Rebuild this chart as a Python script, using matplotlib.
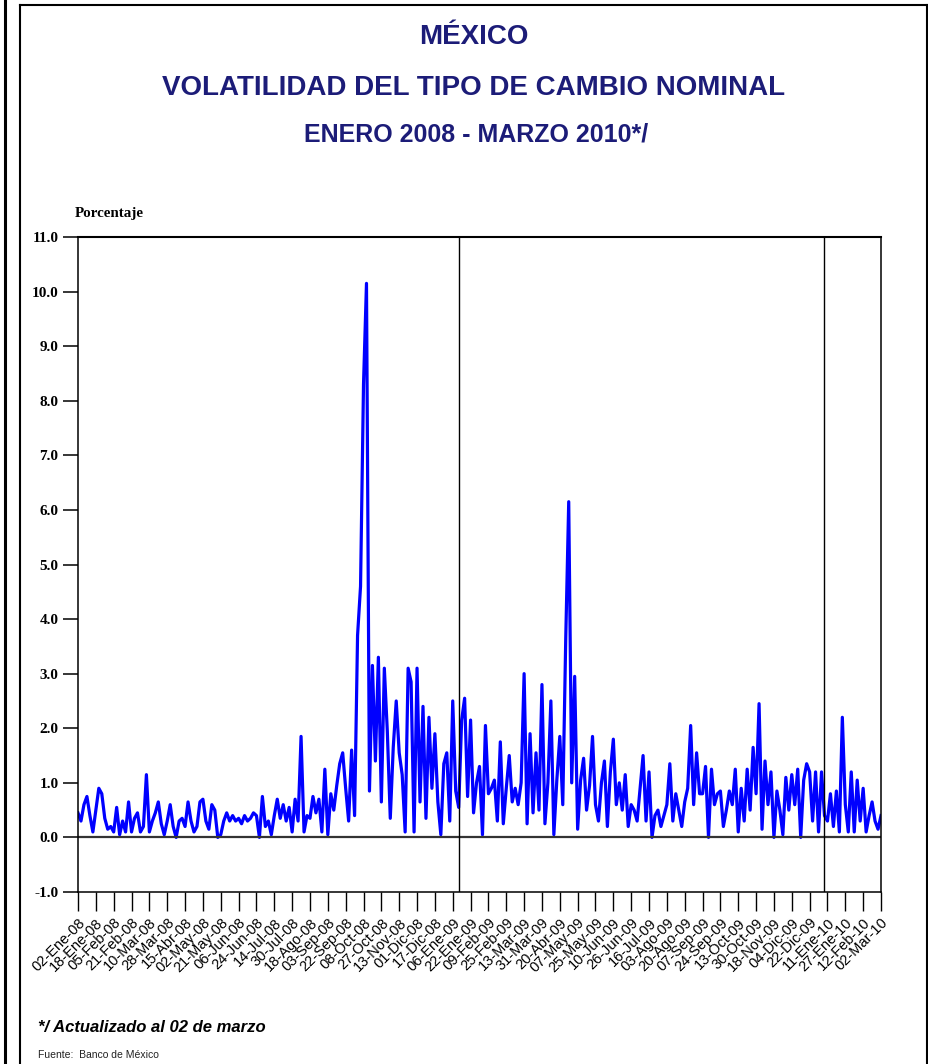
import numpy as np
import matplotlib
matplotlib.use("Agg")
import matplotlib.pyplot as plt
from matplotlib.lines import Line2D

# Etiquetas del eje X (una cada 6 observaciones)
fechas = ["02-Ene-08", "18-Ene-08", "05-Feb-08", "21-Feb-08", "10-Mar-08", "28-Mar-08",
          "15-Abr-08", "02-May-08", "21-May-08", "06-Jun-08", "24-Jun-08", "14-Jul-08",
          "30-Jul-08", "18-Ago-08", "03-Sep-08", "22-Sep-08", "08-Oct-08", "27-Oct-08",
          "13-Nov-08", "01-Dic-08", "17-Dic-08", "06-Ene-09", "22-Ene-09", "09-Feb-09",
          "25-Feb-09", "13-Mar-09", "31-Mar-09", "20-Abr-09", "07-May-09", "25-May-09",
          "10-Jun-09", "26-Jun-09", "16-Jul-09", "03-Ago-09", "20-Ago-09", "07-Sep-09",
          "24-Sep-09", "13-Oct-09", "30-Oct-09", "18-Nov-09", "04-Dic-09", "22-Dic-09",
          "11-Ene-10", "27-Ene-10", "12-Feb-10", "02-Mar-10"]

# Volatilidad (%), 6 observaciones por intervalo de etiqueta
volatilidad = [
    0.45, 0.30, 0.60, 0.75, 0.40, 0.10,
    0.50, 0.90, 0.80, 0.35, 0.15, 0.20,
    0.10, 0.55, 0.05, 0.30, 0.10, 0.65,
    0.10, 0.35, 0.45, 0.10, 0.20, 1.15,
    0.10, 0.30, 0.45, 0.65, 0.25, 0.05,
    0.30, 0.60, 0.20, 0.00, 0.30, 0.35,
    0.20, 0.65, 0.30, 0.10, 0.20, 0.65,
    0.70, 0.30, 0.15, 0.60, 0.50, 0.00,
    0.05, 0.30, 0.45, 0.30, 0.40, 0.30,
    0.35, 0.25, 0.40, 0.30, 0.35, 0.45,
    0.40, 0.00, 0.75, 0.20, 0.30, 0.05,
    0.40, 0.70, 0.35, 0.60, 0.30, 0.55,
    0.10, 0.70, 0.30, 1.85, 0.10, 0.40,
    0.35, 0.75, 0.45, 0.70, 0.10, 1.25,
    0.05, 0.80, 0.50, 0.95, 1.35, 1.55,
    0.90, 0.30, 1.60, 0.40, 3.70, 4.60,
    8.30, 10.15, 0.85, 3.15, 1.40, 3.30,
    0.65, 3.10, 1.95, 0.35, 1.65, 2.50,
    1.55, 1.15, 0.10, 3.10, 2.85, 0.10,
    3.10, 0.65, 2.40, 0.35, 2.20, 0.90,
    1.90, 0.65, 0.05, 1.35, 1.55, 0.30,
    2.50, 0.85, 0.55, 2.15, 2.55, 0.75,
    2.15, 0.45, 1.00, 1.30, 0.05, 2.05,
    0.80, 0.90, 1.05, 0.30, 1.75, 0.25,
    0.90, 1.50, 0.65, 0.90, 0.60, 1.00,
    3.00, 0.25, 1.90, 0.45, 1.55, 0.50,
    2.80, 0.25, 1.00, 2.50, 0.05, 1.05,
    1.85, 0.60, 3.65, 6.15, 1.00, 2.95,
    0.15, 1.05, 1.45, 0.50, 0.95, 1.85,
    0.60, 0.30, 1.00, 1.40, 0.20, 1.20,
    1.80, 0.60, 1.00, 0.50, 1.15, 0.20,
    0.60, 0.50, 0.30, 0.90, 1.50, 0.30,
    1.20, 0.00, 0.40, 0.50, 0.20, 0.40,
    0.60, 1.35, 0.30, 0.80, 0.50, 0.20,
    0.65, 0.90, 2.05, 0.60, 1.55, 0.80,
    0.80, 1.30, 0.00, 1.25, 0.60, 0.80,
    0.85, 0.20, 0.50, 0.85, 0.60, 1.25,
    0.10, 0.90, 0.30, 1.25, 0.50, 1.65,
    0.80, 2.45, 0.15, 1.40, 0.60, 1.20,
    0.00, 0.85, 0.50, 0.05, 1.10, 0.50,
    1.15, 0.60, 1.25, 0.00, 1.05, 1.35,
    1.20, 0.30, 1.20, 0.10, 1.20, 0.40,
    0.30, 0.80, 0.20, 0.85, 0.10, 2.20,
    0.60, 0.10, 1.20, 0.10, 1.05, 0.30,
    0.90, 0.10, 0.40, 0.65, 0.30, 0.15,
    0.40,
]

# Cambio de año (en unidades de intervalo de etiqueta)
cortes_anio = [21.35, 41.8]

paso = 6
x = np.arange(len(volatilidad))
azul_titulo = "#1c1c78"
sans = ["Liberation Sans", "DejaVu Sans"]

fig = plt.figure(figsize=(9.29, 10.64), dpi=100)
ax = fig.add_axes([78 / 929, 1 - 892 / 1064, 803 / 929, 655 / 1064])

ax.plot(x, volatilidad, color="#0000ff", lw=2.3)
ax.axhline(0, color="#333333", lw=1.6)
for c in cortes_anio:
    ax.axvline(c * paso, color="black", lw=1.0)

ax.set_xlim(0, (len(fechas) - 1) * paso)
ax.set_ylim(-1, 11)
ax.set_yticks(np.arange(-1, 12, 1))
ax.set_yticklabels([f"{v:.1f}" for v in np.arange(-1, 12, 1)],
                   family="Liberation Serif", fontweight="bold", fontsize=11)
ax.set_xticks(np.arange(len(fechas)) * paso)
ax.set_xticklabels(fechas, rotation=45, ha="right", va="top", rotation_mode="anchor",
                   family="Liberation Sans", fontsize=10.5)
ax.tick_params(axis="y", direction="out", length=11, width=1.1, pad=3)
ax.tick_params(axis="x", direction="out", length=14, width=1.0, pad=3)
for s in ax.spines.values():
    s.set_linewidth(1.1)
ax.spines["top"].set_linewidth(1.5)

# Titulos
fig.text(474 / 929, 1 - 37 / 1064, "MÉXICO", ha="center", va="center",
         color=azul_titulo, fontsize=20, fontweight="bold", family=sans)
fig.text(474 / 929, 1 - 88 / 1064, "VOLATILIDAD DEL TIPO DE CAMBIO NOMINAL", ha="center",
         va="center", color=azul_titulo, fontsize=20, fontweight="bold", family=sans)
fig.text(476 / 929, 1 - 134 / 1064, "ENERO 2008 - MARZO 2010*/", ha="center", va="center",
         color=azul_titulo, fontsize=18, fontweight="bold", family=sans)

fig.text(75 / 929, 1 - 214 / 1064, "Porcentaje", ha="left", va="center",
         family="Liberation Serif", fontweight="bold", fontsize=10.8)

fig.text(38 / 929, 1 - 1027 / 1064, "*/ Actualizado al 02 de marzo", ha="left", va="center",
         family=sans, fontweight="bold", style="italic", fontsize=12)
fig.text(38 / 929, 1 - 1055 / 1064, "Fuente:  Banco de México", ha="left", va="center",
         family=sans, fontsize=7.5, color="#222222")

# Marco exterior
W, H = 929, 1064
for (x0, y0, x1, y1, lw) in [(5, 0, 5, H, 2.2), (20, 5, 20, H, 1.5),
                             (20, 5, 927, 5, 1.5), (927, 5, 927, H, 1.5)]:
    fig.add_artist(Line2D([x0 / W, x1 / W], [1 - y0 / H, 1 - y1 / H],
                          transform=fig.transFigure, color="black", lw=lw))

fig.savefig("out.png", dpi=100)
